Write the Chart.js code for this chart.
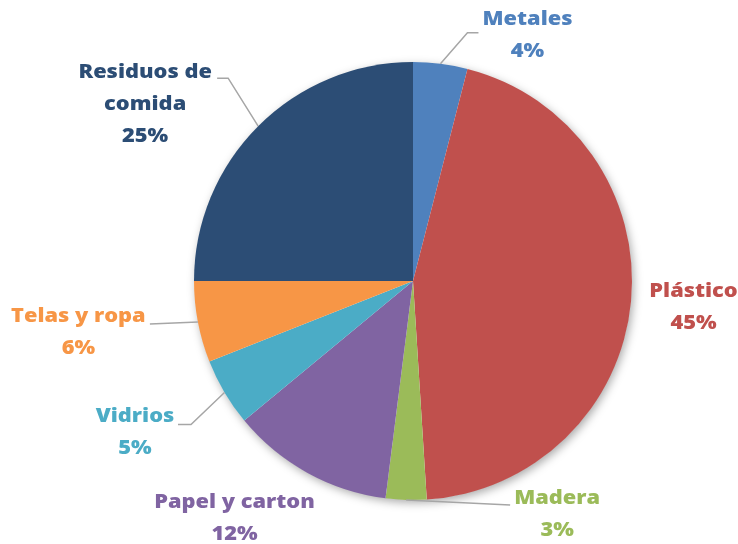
<!DOCTYPE html>
<html><head><meta charset="utf-8">
<script src="https://cdn.jsdelivr.net/npm/chart.js@4"></script>
<style>html,body{margin:0;padding:0;background:#fff;}#wrap{width:738px;height:544px;position:relative;}</style>
</head><body><div id="wrap"><canvas id="c" width="738" height="544"></canvas></div>
<script>
const categories = ['Metales', 'Plástico', 'Madera', 'Papel y carton', 'Vidrios', 'Telas y ropa', 'Residuos de comida'];
const values = [4, 45, 3, 12, 5, 6, 25];
const percentLabels = ['4%', '45%', '3%', '12%', '5%', '6%', '25%'];
const labelLines = [['Metales'], ['Plástico'], ['Madera'], ['Papel y carton'], ['Vidrios'], ['Telas y ropa'], ['Residuos de', 'comida']];
const colors = ['#4F81BD', '#C0504D', '#9BBB59', '#8064A2', '#4BACC6', '#F79646', '#2C4D75'];

// label layout: offset of first text line centre from slice's outer mid point, and leader polyline points (offsets)
const labelLayout = [
  {text: [87, -45], leader: [[27, -31], [38, -31]]},
  {text: [62.5, -11], leader: null},
  {text: [151, -3], leader: [[104, 5]]},
  {text: [-73, 28], leader: null},
  {text: [-89.5, 23], leader: [[-33.5, 32], [-46.5, 32]]},
  {text: [-119.5, -7], leader: [[-48, 2]]},
  {text: [-113, -55], leader: [[-30, -48], [-41, -48]]}
];
const FONT = '800 20px "Open Sans"';
const STRETCH = 1.09;
const LINE_H = 32;

const shadowPlugin = {
  id: 'shadow',
  beforeDatasetsDraw(chart) {
    const arc = chart.getDatasetMeta(0).data[0];
    if (!arc) return;
    const ctx = chart.ctx;
    ctx.save();
    ctx.shadowColor = 'rgba(0,0,0,0.35)';
    ctx.shadowBlur = 10;
    ctx.shadowOffsetX = 2;
    ctx.shadowOffsetY = 3;
    ctx.fillStyle = '#fff';
    ctx.beginPath();
    ctx.arc(arc.x, arc.y, arc.outerRadius - 0.5, 0, Math.PI * 2);
    ctx.fill();
    ctx.restore();
  }
};

const labelPlugin = {
  id: 'outLabels',
  afterDatasetsDraw(chart) {
    const ctx = chart.ctx;
    const meta = chart.getDatasetMeta(0);
    meta.data.forEach((arc, i) => {
      const mid = (arc.startAngle + arc.endAngle) / 2;
      const ex = arc.x + Math.cos(mid) * arc.outerRadius;
      const ey = arc.y + Math.sin(mid) * arc.outerRadius;
      const lay = labelLayout[i];
      if (lay.leader) {
        ctx.save();
        ctx.strokeStyle = '#A6A6A6';
        ctx.lineWidth = 1.5;
        ctx.beginPath();
        ctx.moveTo(ex, ey);
        lay.leader.forEach(p => ctx.lineTo(ex + p[0], ey + p[1]));
        ctx.stroke();
        ctx.restore();
      }
      const lines = labelLines[i].concat([percentLabels[i]]);
      const tx = ex + lay.text[0];
      let ty = ey + lay.text[1];
      ctx.save();
      ctx.font = FONT;
      ctx.fillStyle = colors[i];
      ctx.textAlign = 'center';
      ctx.textBaseline = 'middle';
      lines.forEach((ln, k) => {
        ctx.save();
        ctx.translate(tx, ty + k * LINE_H);
        ctx.scale(STRETCH, 1);
        ctx.fillText(ln, 0, 1);
        ctx.restore();
      });
      ctx.restore();
    });
  }
};

new Chart(document.getElementById('c'), {
  type: 'pie',
  data: {
    labels: categories,
    datasets: [{data: values, backgroundColor: colors, borderWidth: 0, borderColor: '#fff'}]
  },
  options: {
    responsive: false,
    animation: false,
    layout: {padding: {top: 62, bottom: 44, left: 150, right: 62}},
    plugins: {legend: {display: false}, tooltip: {enabled: false}}
  },
  plugins: [shadowPlugin, labelPlugin]
});
</script></body></html>
